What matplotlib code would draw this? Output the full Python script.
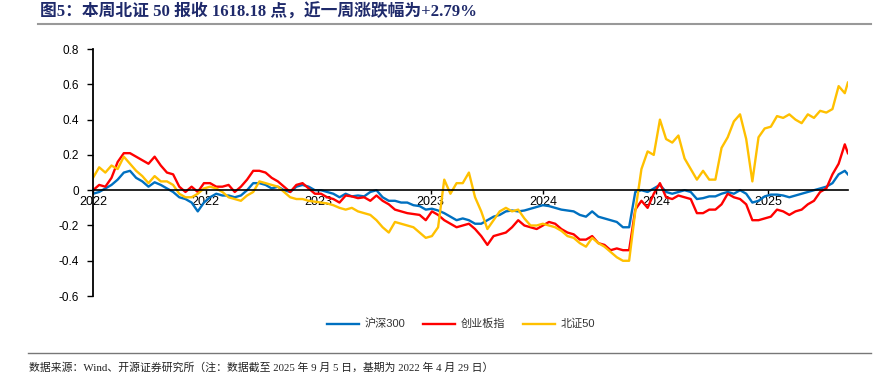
import numpy as np
import pandas as pd
import matplotlib
matplotlib.use("Agg")
import matplotlib.pyplot as plt

plt.rcParams['font.family'] = ['Liberation Sans', 'Noto Sans CJK SC', 'DejaVu Sans']
plt.rcParams['axes.unicode_minus'] = False

# 数据：基期 2022-04-29，每 10 天取一个点，最后一点为 2025-09-05
dates = list(pd.date_range("2022-04-29", periods=123, freq="10D")) + [pd.Timestamp("2025-09-05")]

hs300 = [-0.02, -0.01, 0.01, 0.03, 0.06, 0.10, 0.11, 0.07, 0.05, 0.02, 0.045,
         0.03, 0.01, -0.01, -0.04, -0.05, -0.07, -0.12, -0.07, -0.04, -0.02,
         -0.03, -0.03, -0.04, -0.03, 0.0, 0.04, 0.04, 0.03, 0.01, 0.02,
         0.0, -0.01, 0.02, 0.03, 0.02, 0.0, 0.0, -0.01, -0.02, -0.04,
         -0.02, -0.035, -0.03, -0.035, -0.01, 0.0, -0.04, -0.06, -0.06, -0.07,
         -0.07, -0.085, -0.09, -0.11, -0.105, -0.115, -0.13, -0.15, -0.17, -0.16,
         -0.17, -0.19, -0.19, -0.17, -0.15, -0.14, -0.12, -0.115, -0.12, -0.115,
         -0.105, -0.095, -0.085, -0.09, -0.10, -0.11, -0.115, -0.12, -0.14, -0.15,
         -0.12, -0.15, -0.16, -0.17, -0.18, -0.21, -0.21, -0.01, 0.0, -0.01,
         0.01, 0.03, -0.01, -0.02, -0.01, 0.0, -0.01, -0.05, -0.045, -0.035,
         -0.035, -0.02, -0.01, -0.02, 0.0, -0.02, -0.07, -0.06, -0.035, -0.025,
         -0.025, -0.03, -0.04, -0.03, -0.02, -0.01, 0.0, 0.01, 0.02, 0.04,
         0.09, 0.11, 0.09]

cyb = [0.0, 0.03, 0.02, 0.07, 0.16, 0.21, 0.21, 0.19, 0.17, 0.15, 0.19,
       0.14, 0.10, 0.09, 0.02, -0.01, 0.02, -0.01, 0.04, 0.04, 0.02,
       0.02, 0.03, -0.01, 0.02, 0.06, 0.11, 0.11, 0.10, 0.07, 0.05,
       0.02, -0.01, 0.03, 0.04, 0.01, -0.02, -0.02, -0.04, -0.05, -0.07,
       -0.03, -0.035, -0.045, -0.04, -0.06, -0.03, -0.06, -0.08, -0.11, -0.12,
       -0.13, -0.135, -0.14, -0.17, -0.12, -0.14, -0.17, -0.19, -0.21, -0.20,
       -0.19, -0.22, -0.26, -0.31, -0.26, -0.25, -0.24, -0.21, -0.17, -0.20,
       -0.21, -0.22, -0.20, -0.18, -0.19, -0.22, -0.24, -0.25, -0.28, -0.28,
       -0.26, -0.30, -0.31, -0.34, -0.33, -0.34, -0.34, -0.11, -0.06, -0.10,
       -0.02, 0.04, -0.04, -0.05, -0.03, -0.04, -0.05, -0.13, -0.13, -0.11,
       -0.11, -0.08, -0.02, -0.04, -0.05, -0.08, -0.17, -0.17, -0.16, -0.15,
       -0.11, -0.12, -0.14, -0.12, -0.11, -0.08, -0.06, -0.01, 0.01, 0.09,
       0.15, 0.26, 0.21]

bz50 = [0.07, 0.13, 0.10, 0.14, 0.12, 0.19, 0.15, 0.11, 0.08, 0.04, 0.08,
        0.05, 0.05, 0.03, -0.02, -0.04, -0.04, -0.02, 0.01, 0.02, 0.01,
        -0.01, -0.04, -0.05, -0.06, -0.03, -0.01, 0.05, 0.04, 0.03, 0.02,
        -0.01, -0.04, -0.05, -0.05, -0.06, -0.065, -0.07, -0.075, -0.085, -0.10,
        -0.11, -0.10, -0.12, -0.13, -0.14, -0.17, -0.21, -0.24, -0.18, -0.19,
        -0.20, -0.21, -0.24, -0.27, -0.26, -0.21, 0.06, -0.02, 0.04, 0.04,
        0.10, -0.04, -0.12, -0.22, -0.17, -0.12, -0.10, -0.12, -0.11, -0.16,
        -0.20, -0.20, -0.19, -0.20, -0.21, -0.23, -0.26, -0.27, -0.30, -0.32,
        -0.27, -0.30, -0.32, -0.35, -0.38, -0.40, -0.40, -0.12, 0.12, 0.22,
        0.20, 0.40, 0.29, 0.27, 0.31, 0.18, 0.12, 0.06, 0.11, 0.06,
        0.06, 0.24, 0.30, 0.39, 0.43, 0.29, 0.05, 0.30, 0.35, 0.36,
        0.42, 0.41, 0.43, 0.40, 0.38, 0.43, 0.41, 0.45, 0.44, 0.46,
        0.59, 0.55, 0.61]

series_names = ["沪深300", "创业板指", "北证50"]
series_colors = ["#0070C0", "#FF0000", "#FFC000"]

tick_dates = pd.to_datetime(["2022-04-29", "2022-10-29", "2023-04-29", "2023-10-29",
                             "2024-04-29", "2024-10-29", "2025-04-29"])
tick_labels = ["2022", "2022", "2023", "2023", "2024", "2024", "2025"]
y_ticks = [-0.6, -0.4, -0.2, 0, 0.2, 0.4, 0.6, 0.8]

fig = plt.figure(figsize=(8.75, 3.84), dpi=100)
ax = fig.add_axes([0.1063, 0.229, 0.8627, 0.6432])

for vals, name, c in zip([hs300, cyb, bz50], series_names, series_colors):
    ax.plot(dates, vals, color=c, linewidth=1.7, label=name)

ax.set_xlim(dates[0], dates[-1])
ax.set_ylim(-0.6, 0.8)
ax.set_yticks(y_ticks)
ax.set_yticklabels(["-0.6", "-0.4", "-0.2", "0", "0.2", "0.4", "0.6", "0.8"])
ax.set_xticks(tick_dates)
ax.set_xticklabels(tick_labels)

ax.spines['top'].set_visible(False)
ax.spines['right'].set_visible(False)
ax.spines['bottom'].set_position(('data', 0))
ax.spines['bottom'].set_linewidth(1.2)
ax.spines['left'].set_linewidth(1.3)
ax.tick_params(axis='y', direction='out', length=4, width=1, labelsize=8.5, pad=6)
ax.tick_params(axis='x', direction='out', length=3, width=1, labelsize=9, pad=1.5)

fig.legend(loc='center', bbox_to_anchor=(0.527, 0.156), ncol=3, frameon=False,
           fontsize=8, handlelength=2.9, handletextpad=0.5, columnspacing=1.6,
           labelcolor='#333333')

# 标题和说明
fig.text(0.046, 0.968, "图5：本周北证 50 报收 1618.18 点，近一周涨跌幅为+2.79%",
         fontsize=12.1, fontweight='bold', color='#1F2A6B', va='center', ha='left',
         family=['Liberation Serif', 'Noto Sans CJK SC'])
fig.add_artist(plt.Line2D([0.043, 0.995], [0.937, 0.937], color='#999999', linewidth=1.5))
fig.add_artist(plt.Line2D([0.032, 0.995], [0.081, 0.081], color='#777777', linewidth=1.0))
fig.text(0.033, 0.042, "数据来源：Wind、开源证券研究所（注：数据截至 2025 年 9 月 5 日，基期为 2022 年 4 月 29 日）",
         fontsize=7.8, color='#222222', va='center', ha='left',
         family=['Liberation Serif', 'Noto Sans CJK SC'])

fig.savefig("out.png", dpi=100)
